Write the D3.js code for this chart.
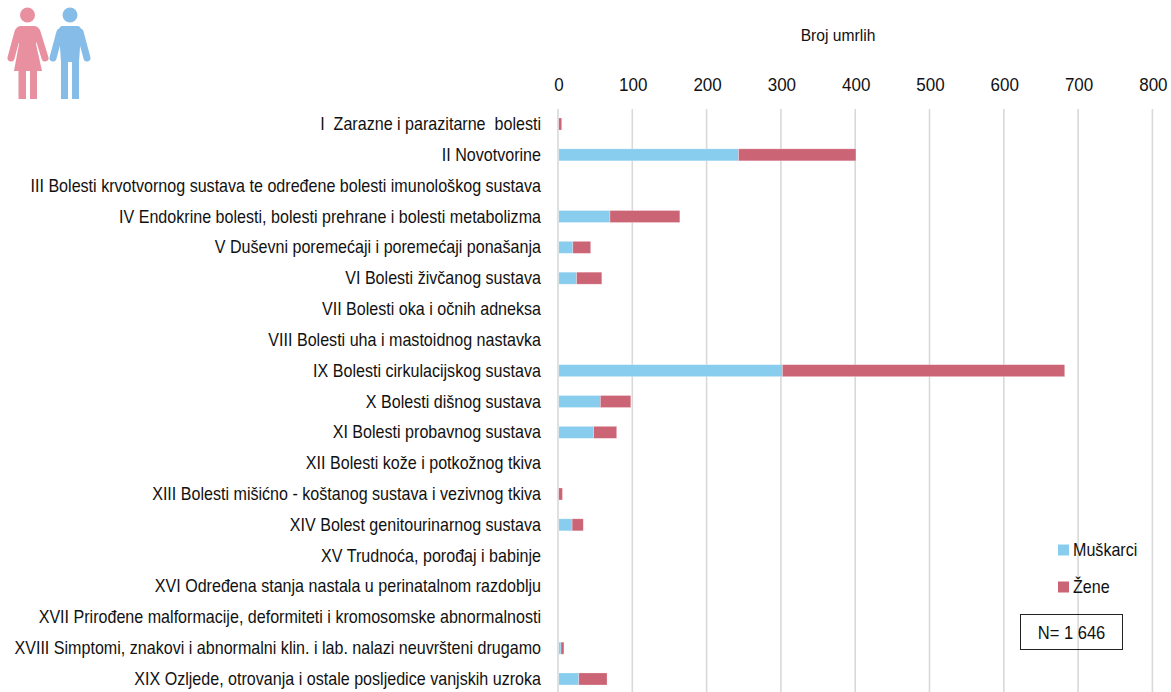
<!DOCTYPE html>
<html><head><meta charset="utf-8">
<script src="https://cdnjs.cloudflare.com/ajax/libs/d3/7.8.5/d3.min.js"></script>
<style>html,body{margin:0;padding:0;background:#fff;overflow:hidden}svg{display:block}
text{font-family:"Liberation Sans",Arial,sans-serif;fill:#111}</style>
</head><body><svg id="c" width="1171" height="692"></svg>
<script>
const categories = ["I  Zarazne i parazitarne  bolesti","II Novotvorine","III Bolesti krvotvornog sustava te određene bolesti imunološkog sustava","IV Endokrine bolesti, bolesti prehrane i bolesti metabolizma","V Duševni poremećaji i poremećaji ponašanja","VI Bolesti živčanog sustava","VII Bolesti oka i očnih adneksa","VIII Bolesti uha i mastoidnog nastavka","IX Bolesti cirkulacijskog sustava","X Bolesti dišnog sustava","XI Bolesti probavnog sustava","XII Bolesti kože i potkožnog tkiva","XIII Bolesti mišićno - koštanog sustava i vezivnog tkiva","XIV Bolest genitourinarnog sustava","XV Trudnoća, porođaj i babinje","XVI Određena stanja nastala u perinatalnom razdoblju","XVII Prirođene malformacije, deformiteti i kromosomske abnormalnosti","XVIII Simptomi, znakovi i abnormalni klin. i lab. nalazi neuvršteni drugamo","XIX Ozljede, otrovanja i ostale posljedice vanjskih uzroka"];
const muskarci = [1,243,0,70,20,25,0,0,302,57,48,0,1,19,0,0,0,4,28];
const zene     = [4,158,0,94,24,34,0,0,380,41,31,0,5,15,0,0,0,4,38];
const ticks = [0,100,200,300,400,500,600,700,800];
const colors = {m:"#89CDEE", z:"#CB6475"};
const svg = d3.select("#c");
const x = d3.scaleLinear().domain([0,800]).range([558,1152.4]);
const y = d3.scaleBand().domain(categories).range([108.6,694.4]).paddingInner(0.61).paddingOuter(0.305);
const sx = 0.92;
svg.append("g").selectAll("line").data(ticks).join("line")
  .attr("x1",d=>x(d)).attr("x2",d=>x(d)).attr("y1",109).attr("y2",692)
  .attr("stroke","#d9d9d9").attr("stroke-width",1.6);
svg.append("g").selectAll("text").data(ticks).join("text")
  .attr("transform",d=>`translate(${x(d)+1},90.5) scale(${sx},1)`).attr("text-anchor","middle").attr("font-size",18.5).text(d=>d);
svg.append("text").attr("transform",`translate(838,41) scale(${sx},1)`).attr("text-anchor","middle").attr("font-size",17).text("Broj umrlih");
svg.append("g").selectAll("text").data(categories).join("text")
  .attr("transform",d=>`translate(541,${y(d)+y.bandwidth()/2+6}) scale(${sx},1)`).attr("text-anchor","end").attr("font-size",17.5)
  .attr("xml:space","preserve").text(d=>d);
const start=0.8;
const rows = categories.map((c,i)=>({c,m:muskarci[i],z:zene[i]}));
svg.append("g").selectAll("rect").data(rows.filter(d=>d.m>0)).join("rect")
  .attr("x",x(0)+start).attr("y",d=>y(d.c)).attr("height",y.bandwidth()).attr("width",d=>x(d.m)-x(0)-start)
  .attr("fill",colors.m).attr("stroke","#fff").attr("stroke-opacity",.45).attr("stroke-width",.6);
svg.append("g").selectAll("rect").data(rows.filter(d=>d.z>0)).join("rect")
  .attr("x",d=>x(d.m)).attr("y",d=>y(d.c)).attr("height",y.bandwidth()).attr("width",d=>x(d.m+d.z)-x(d.m))
  .attr("fill",colors.z).attr("stroke","#fff").attr("stroke-opacity",.45).attr("stroke-width",.6);
const leg=[["Muškarci",colors.m,550],["Žene",colors.z,587]];
leg.forEach(([t,c,yy])=>{
  svg.append("rect").attr("x",1058).attr("y",yy-5.5).attr("width",11).attr("height",11).attr("fill",c);
  svg.append("text").attr("transform",`translate(1073,${yy+6}) scale(${sx},1)`).attr("font-size",17.5).text(t);
});
svg.append("rect").attr("x",1020.5).attr("y",614.5).attr("width",102).attr("height",35).attr("fill","#fff").attr("fill-opacity",0).attr("stroke","#222").attr("stroke-width",1);
svg.append("text").attr("transform",`translate(1071.5,638.5) scale(${sx},1)`).attr("text-anchor","middle").attr("font-size",18).text("N= 1 646");
const w=svg.append("g").attr("fill","#E88FA0");
w.append("circle").attr("cx",27.5).attr("cy",15).attr("r",7.5);
w.append("path").attr("d","M20 26 H35 Q39 27 40 31 L36 44 L42 71 H14 L19 44 L15 31 Q16 27 20 26Z");
w.append("rect").attr("x",18.5).attr("y",70).attr("width",7.5).attr("height",29);
w.append("rect").attr("x",30).attr("y",70).attr("width",7).attr("height",29);
w.append("path").attr("d","M18 32 L11 58 M37 32 L45 58").attr("stroke","#E88FA0").attr("stroke-width",7).attr("stroke-linecap","round").attr("fill","none");
const m=svg.append("g").attr("fill","#86BDE8");
m.append("circle").attr("cx",70).attr("cy",15).attr("r",7.5);
m.append("path").attr("d","M62 26 H78 Q82 27 81 33 L79 62 V99 H72 V62 H68 V99 H61 V62 L59 33 Q58 27 62 26Z");
m.append("path").attr("d","M60 32 L53 58 M80 32 L87 58").attr("stroke","#86BDE8").attr("stroke-width",7).attr("stroke-linecap","round").attr("fill","none");
</script></body></html>
